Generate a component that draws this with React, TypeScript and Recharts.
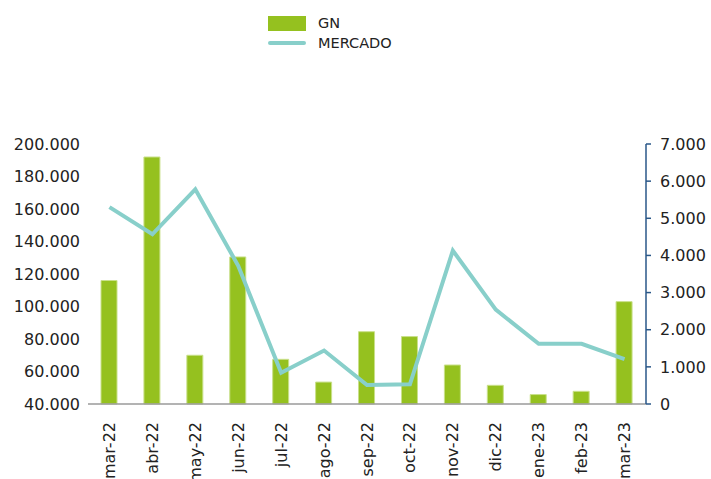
import React from 'react'
import {
  Bar,
  ComposedChart,
  Legend,
  Line,
  XAxis,
  YAxis
} from 'recharts'

const months = [
  'mar-22', 'abr-22', 'may-22', 'jun-22', 'jul-22', 'ago-22', 'sep-22',
  'oct-22', 'nov-22', 'dic-22', 'ene-23', 'feb-23', 'mar-23'
]
const gnValues = [
  116000, 192000, 70000, 130500, 67500, 53500, 84500,
  81500, 64000, 51500, 45800, 47800, 103000
]
const mercadoValues = [
  5300, 4570, 5780, 3720, 840, 1440, 510,
  530, 4130, 2540, 1620, 1620, 1210
]
const leftTicks = [40000, 60000, 80000, 100000, 120000, 140000, 160000, 180000, 200000]
const rightTicks = [0, 1000, 2000, 3000, 4000, 5000, 6000, 7000]
const legendItems = [
  { name: 'GN', type: 'rect' },
  { name: 'MERCADO', type: 'line' }
]

const GREEN = '#95c11f'
const TEAL = '#88cfca'
const FONT = '"DejaVu Sans", sans-serif'

const data = months.map((month, i) => ({
  month,
  gn: gnValues[i],
  mercado: mercadoValues[i]
}))

const fmt = (v: number) => String(v).replace(/\B(?=(\d{3})+(?!\d))/g, '.')

const XTick = ({ x, y, payload }: any) => (
  <text
    x={x}
    y={y}
    transform={`rotate(-90, ${x}, ${y})`}
    textAnchor="end"
    dominantBaseline="central"
    fontSize={16}
    fontFamily={FONT}
    fill="#222"
  >
    {payload.value}
  </text>
)

const LegendContent = () => (
  <svg width={200} height={60}>
    {legendItems.map((item, i) => (
      <g key={item.name} transform={`translate(0, ${i * 20})`}>
        {item.type === 'rect' ? (
          <rect x={8} y={16} width={38} height={15} fill={GREEN} />
        ) : (
          <line x1={10} x2={44} y1={23} y2={23} stroke={TEAL} strokeWidth={4} strokeLinecap="round" />
        )}
        <text x={58} y={23} dominantBaseline="central" fontSize={14.5} fontFamily={FONT} fill="#222">
          {item.name}
        </text>
      </g>
    ))}
  </svg>
)

export default function App() {
  return (
    <div style={{ position: 'absolute', left: 0, top: 0 }}>
      <ComposedChart
        width={711}
        height={479}
        data={data}
        margin={{ top: 144, right: 0, bottom: 0, left: 0 }}
      >
        <XAxis
          dataKey="month"
          height={75}
          interval={0}
          tickLine={false}
          axisLine={{ stroke: '#9a9a9a', strokeWidth: 1.5 }}
          tickSize={6}
          tickMargin={12}
          tick={<XTick />}
        />
        <YAxis
          yAxisId="left"
          width={88}
          domain={[40000, 200000]}
          ticks={leftTicks}
          axisLine={false}
          tickLine={false}
          tickSize={0}
          tickMargin={8}
          tickFormatter={fmt}
          tick={{ fill: '#222', fontSize: 16, fontFamily: FONT }}
        />
        <YAxis
          yAxisId="right"
          orientation="right"
          width={65}
          domain={[0, 7000]}
          ticks={rightTicks}
          axisLine={{ stroke: '#2a5788', strokeWidth: 1.5 }}
          tickLine={{ stroke: '#2a5788', strokeWidth: 1.5 }}
          tickSize={5}
          tickMargin={9}
          tickFormatter={fmt}
          tick={{ fill: '#222', fontSize: 16, fontFamily: FONT }}
        />
        <Legend
          layout="horizontal"
          align="center"
          verticalAlign="middle"
          wrapperStyle={{ top: 0, left: 260, width: 200, height: 60 }}
          content={<LegendContent />}
        />
        <Bar
          yAxisId="left"
          dataKey="gn"
          name="GN"
          fill={GREEN}
          stroke="#c9e08a"
          strokeWidth={1}
          barSize={16}
          isAnimationActive={false}
        />
        <Line
          yAxisId="right"
          dataKey="mercado"
          name="MERCADO"
          type="linear"
          stroke={TEAL}
          strokeWidth={4}
          dot={false}
          activeDot={false}
          isAnimationActive={false}
        />
      </ComposedChart>
    </div>
  )
}
